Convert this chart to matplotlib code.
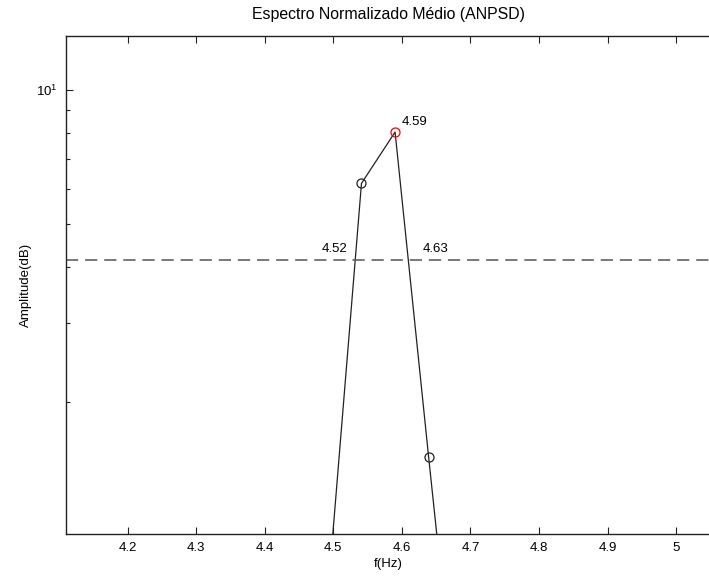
import matplotlib
matplotlib.use("Agg")
import matplotlib.pyplot as plt
from matplotlib.ticker import LogLocator, NullFormatter

# averaged normalised PSD around the peak (bins 0.0488 Hz apart)
freq = [4.492, 4.541, 4.590, 4.639, 4.688]
amp = [0.74, 6.17, 8.04, 1.50, 0.29]
peak_idx = 2
half_level = 4.15
f_low, f_peak, f_high = 4.52, 4.59, 4.63

plt.rcParams['font.family'] = ['Liberation Sans', 'DejaVu Sans']
plt.rcParams['font.size'] = 9.5

fig = plt.figure(figsize=(7.09, 5.79), dpi=100)
ax = fig.add_axes([66 / 709, 1 - 534 / 579, (709 - 66) / 709 + 0.003, (534 - 36) / 579])

ax.semilogy(freq, amp, color='#222222', lw=0.9)
ax.plot([freq[1], freq[3]], [amp[1], amp[3]], ls='none', marker='o', ms=6.5,
        mfc='none', mec='#222222', mew=0.9)
ax.plot(freq[peak_idx], amp[peak_idx], ls='none', marker='o', ms=6.5,
        mfc='none', mec='red', mew=0.9)
ax.axhline(half_level, color='#555555', lw=1.1, ls=(0, (8, 4.5)))

ax.annotate(f'{f_peak:.2f}', (f_peak, amp[peak_idx]), xytext=(4.5, 7.5),
            textcoords='offset points', ha='left', va='center')
ax.annotate(f'{f_low:.2f}', (f_low, half_level), xytext=(0, 8),
            textcoords='offset points', ha='right', va='center')
ax.annotate(f'{f_high:.2f}', (f_high, half_level), xytext=(0, 8),
            textcoords='offset points', ha='left', va='center')

ax.set_xlim(4.11, 5.051)
ax.set_ylim(1.01, 13.2)
ax.set_xticks([4.2, 4.3, 4.4, 4.5, 4.6, 4.7, 4.8, 4.9, 5.0])
ax.set_xticklabels(['4.2', '4.3', '4.4', '4.5', '4.6', '4.7', '4.8', '4.9', '5'])
ax.yaxis.set_minor_locator(LogLocator(base=10, subs=range(2, 10)))
ax.yaxis.set_minor_formatter(NullFormatter())

ax.tick_params(which='both', direction='in', top=True, right=False, color='#222222')
ax.tick_params(which='major', length=5, width=0.8, pad=6)
ax.tick_params(which='minor', length=3, width=0.8)
for side in ['left', 'bottom', 'top']:
    ax.spines[side].set_linewidth(1.0)
    ax.spines[side].set_color('#222222')
ax.spines['right'].set_visible(False)

ax.set_xlabel('f(Hz)', labelpad=3)
ax.set_ylabel('Amplitude(dB)', labelpad=3)
ax.set_title('Espectro Normalizado Médio (ANPSD)', pad=12)

fig.savefig('out.png', dpi=100)
